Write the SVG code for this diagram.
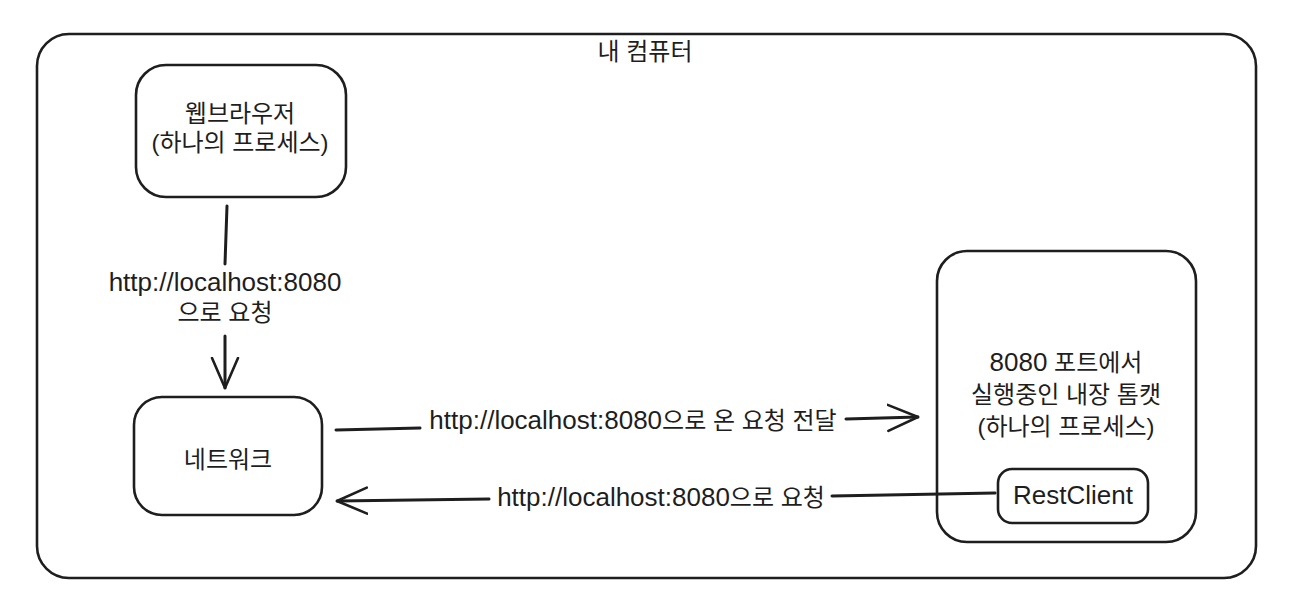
<svg xmlns="http://www.w3.org/2000/svg" width="1296" height="598" viewBox="0 0 1296 598">
<style>
.box{fill:none;stroke:#1e1e1e;stroke-width:2.6;stroke-linecap:round;stroke-linejoin:round}
.ln{fill:none;stroke:#1e1e1e;stroke-width:3;stroke-linecap:round;stroke-linejoin:round}
text{font-family:"Liberation Sans","Noto Sans CJK KR",sans-serif;font-size:24px;fill:#1e1e1e;text-anchor:middle}
.l{font-size:26px}
</style>
<defs>
<marker id="ah" viewBox="0 0 32 30" refX="31" refY="15" markerWidth="32" markerHeight="30" markerUnits="userSpaceOnUse" orient="auto">
<path d="M1,2 L31,15 L1,28" fill="none" stroke="#1e1e1e" stroke-width="2.6" stroke-linecap="round" stroke-linejoin="round"/>
</marker>
</defs>
<rect width="1296" height="598" fill="#ffffff"/>
<g id="computer">
<rect class="box" x="37" y="34" width="1219" height="544" rx="32"/>
<text x="645" y="60">내 컴퓨터</text>
</g>
<g id="browser">
<rect class="box" x="136" y="65" width="210" height="132" rx="30"/>
<text x="240" y="122">웹브라우저</text>
<text x="240" y="151">(하나의 프로세스)</text>
</g>
<g id="network">
<rect class="box" x="134" y="397" width="188" height="118" rx="28"/>
<text x="228" y="468">네트워크</text>
</g>
<g id="tomcat">
<rect class="box" x="937" y="251" width="259" height="291" rx="30"/>
<text x="1066" y="371"><tspan class="l">8080</tspan> 포트에서</text>
<text x="1066" y="403">실행중인 내장 톰캣</text>
<text x="1066" y="435">(하나의 프로세스)</text>
</g>
<g id="restclient">
<rect class="box" x="998" y="469" width="150" height="54" rx="14"/>
<text x="1073" y="504" class="l">RestClient</text>
</g>
<g id="connectors">
<path class="ln" d="M227,206 L225,264"/>
<path class="ln" d="M225,336 L225,388" marker-end="url(#ah)"/>
<text x="225" y="291" class="l">http://localhost:8080</text>
<text x="225" y="321">으로 요청</text>
<path class="ln" d="M336,430 L420,428"/>
<path class="ln" d="M846,419 L918,417" marker-end="url(#ah)"/>
<text x="633" y="429"><tspan class="l">http://localhost:8080</tspan>으로 온 요청 전달</text>
<path class="ln" d="M995,493 L832,496"/>
<path class="ln" d="M489,499 L337,501" marker-end="url(#ah)"/>
<text x="661" y="506"><tspan class="l">http://localhost:8080</tspan>으로 요청</text>
</g>
</svg>
